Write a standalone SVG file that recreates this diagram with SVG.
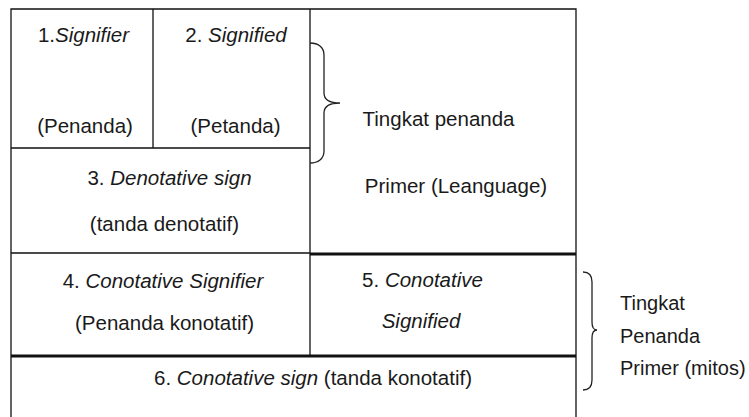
<svg xmlns="http://www.w3.org/2000/svg" width="749" height="417" viewBox="0 0 749 417">
<style>
.t{font-family:"Liberation Sans",Arial,sans-serif;font-size:20.5px;fill:#1a1a1a;text-anchor:middle}
.l{text-anchor:start;font-size:20px}
.i{font-style:italic}
.thin{stroke:#111;stroke-width:1.3;fill:none}
.thick{stroke:#111;stroke-width:3;fill:none}
.brace{stroke:#222;stroke-width:1.3;fill:none}
</style>
<rect width="749" height="417" fill="#fff"/>
<g id="grid">
<path class="thin" d="M11,430 V9 H576 V430"/>
<path class="thin" d="M153,9 V148 M11,148 H310 M310,9 V356 M11,253 H310"/>
<path class="thick" d="M310,254 H576 M11,356 H576"/>
</g>
<g id="signifier">
<text class="t" x="83.5" y="42">1.<tspan class="i">Signifier</tspan></text>
<text class="t" x="85" y="133">(Penanda)</text>
</g>
<g id="signified">
<text class="t" x="236" y="42">2. <tspan class="i">Signified</tspan></text>
<text class="t" x="235.5" y="133">(Petanda)</text>
</g>
<g id="denotative-sign">
<text class="t" x="169.5" y="185">3. <tspan class="i">Denotative sign</tspan></text>
<text class="t" x="164.5" y="231">(tanda denotatif)</text>
</g>
<g id="primer-language">
<text class="t" x="438.5" y="125.5">Tingkat penanda</text>
<text class="t" x="456" y="193">Primer (Leanguage)</text>
</g>
<g id="conotative-signifier">
<text class="t" x="163" y="288">4. <tspan class="i">Conotative Signifier</tspan></text>
<text class="t" x="164.5" y="330">(Penanda konotatif)</text>
</g>
<g id="conotative-signified">
<text class="t" x="422.5" y="286.5">5. <tspan class="i">Conotative</tspan></text>
<text class="t i" x="421" y="328">Signified</text>
</g>
<g id="conotative-sign">
<text class="t" x="313" y="385">6. <tspan class="i">Conotative sign</tspan> (tanda konotatif)</text>
</g>
<g id="primer-mitos">
<text class="t l" x="620" y="310">Tingkat</text>
<text class="t l" x="620" y="343">Penanda</text>
<text class="t l" x="620" y="375">Primer (mitos)</text>
</g>
<g id="connectors">
<path class="brace" d="M310,43 C318,43 324,47 324,55 L324,93 C324,100 330,103 340,103 C330,103 324,106 324,113 L324,151 C324,159 318,163 310,163"/>
<path class="brace" d="M583,272 C589,272 592,276 592,282 L592,322 C592,327 594,330 597,330 C594,330 592,333 592,338 L592,380 C592,386 589,390 583,390"/>
</g>
</svg>
